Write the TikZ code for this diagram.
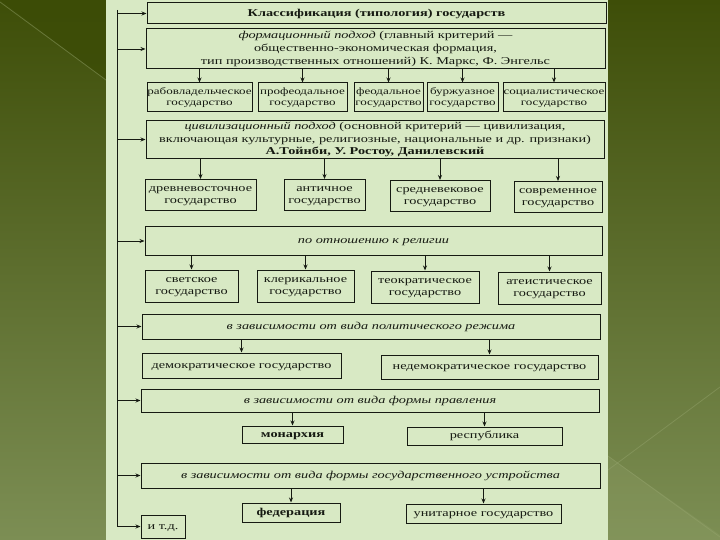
\documentclass[tikz,border=0pt]{standalone}
\usepackage{fontspec}
\setmainfont[FakeStretch=1.36]{Liberation Serif}
\usetikzlibrary{arrows.meta}
\definecolor{panel}{RGB}{216,233,196}
\definecolor{ink}{RGB}{22,26,18}
\definecolor{bgtop}{RGB}{62,78,8}
\definecolor{bgbot}{RGB}{124,142,84}
\definecolor{bgdark}{RGB}{60,76,6}
\definecolor{bglight}{RGB}{150,165,110}
\newcommand{\Tx}[1]{\begin{tabular}{@{}c@{}}#1\end{tabular}}
\begin{document}
\begin{tikzpicture}[x=1pt,y=-1pt,
  box/.style={draw=ink, line width=1pt, inner sep=0pt, text=ink,
    font=\fontsize{10.5}{12.6}\selectfont},
  smallbox/.style={box, font=\fontsize{9.6}{11.6}\selectfont},
  arr/.style={draw=ink, line width=0.9pt, -{Stealth[length=5pt,width=4pt]}},
  trunkline/.style={draw=ink, line width=1pt},
  deco/.style={draw=bglight, line width=0.8pt, opacity=0.45}
]
\useasboundingbox (0,0) rectangle (720,540);
% background
\shade[top color=bgtop, bottom color=bgbot] (0,0) rectangle (720,540);
\fill[bgdark, opacity=0.8] (0,0) -- (106,0) -- (106,80) -- cycle;
\fill[bglight, opacity=0.25] (608,456) -- (720,535) -- (720,540) -- (608,540) -- cycle;
\draw[deco] (0,2) -- (106,80);
\draw[deco] (608,470) -- (720,387);
\draw[deco] (608,456) -- (720,537);
% panel
\fill[panel] (106,0) rectangle (608,540);

% header boxes
\node[box, minimum width=459pt, minimum height=21pt] (title) at (376.5,13.5)
  {\Tx{\textbf{Классификация (типология) государств}}};
\node[box, minimum width=459pt, minimum height=40pt] (form) at (375.5,49)
  {\Tx{{\itshape формационный подход} (главный критерий —\\общественно-экономическая формация,\\тип производственных отношений) К. Маркс, Ф. Энгельс}};

% row 1
\node[smallbox, minimum width=105pt, minimum height=29pt] (r1a) at (199.5,97.5) {\Tx{рабовладельческое\\государство}};
\node[smallbox, minimum width=89pt, minimum height=29pt] (r1b) at (302.5,97.5) {\Tx{профеодальное\\государство}};
\node[smallbox, minimum width=69pt, minimum height=29pt] (r1c) at (388.5,97.5) {\Tx{феодальное\\государство}};
\node[smallbox, minimum width=71pt, minimum height=29pt] (r1d) at (462.5,97.5) {\Tx{буржуазное\\государство}};
\node[smallbox, minimum width=102pt, minimum height=29pt] (r1e) at (554,97.5) {\Tx{социалистическое\\государство}};

\node[box, minimum width=458pt, minimum height=38pt] (civ) at (375,139.5)
  {\Tx{{\itshape цивилизационный подход} (основной критерий — цивилизация,\\включающая культурные, религиозные, национальные и др. признаки)\\\textbf{А.Тойнби, У. Ростоу, Данилевский}}};

% row 2
\node[box, minimum width=111pt, minimum height=31pt] (r2a) at (200.5,195) {\Tx{древневосточное\\государство}};
\node[box, minimum width=81pt, minimum height=31pt] (r2b) at (324.5,195) {\Tx{античное\\государство}};
\node[box, minimum width=100pt, minimum height=31pt] (r2c) at (440,196) {\Tx{средневековое\\государство}};
\node[box, minimum width=88pt, minimum height=31pt] (r2d) at (558,197) {\Tx{современное\\государство}};

\node[box, minimum width=457pt, minimum height=28pt] (rel) at (373.5,241)
  {\Tx{\itshape по отношению к религии}};

% row 3
\node[box, minimum width=93pt, minimum height=32pt] (r3a) at (191.5,286) {\Tx{светское\\государство}};
\node[box, minimum width=97pt, minimum height=32pt] (r3b) at (305.5,286) {\Tx{клерикальное\\государство}};
\node[box, minimum width=108pt, minimum height=32pt] (r3c) at (425,287) {\Tx{теократическое\\государство}};
\node[box, minimum width=103pt, minimum height=32pt] (r3d) at (549.5,288) {\Tx{атеистическое\\государство}};

\node[box, minimum width=458pt, minimum height=25pt] (pol) at (371,326.5)
  {\Tx{\itshape в зависимости от вида политического режима}};

% row 4
\node[box, minimum width=199pt, minimum height=25pt] (r4a) at (241.5,365.5) {\Tx{демократическое государство}};
\node[box, minimum width=217pt, minimum height=24pt] (r4b) at (489.5,367) {\Tx{недемократическое государство}};

\node[box, minimum width=458pt, minimum height=23pt] (gov) at (370,400.5)
  {\Tx{\itshape в зависимости от вида формы правления}};

% row 5
\node[box, minimum width=101pt, minimum height=17pt] (r5a) at (292.5,434.5) {\Tx{\textbf{монархия}}};
\node[box, minimum width=155pt, minimum height=18pt] (r5b) at (484.5,436) {\Tx{республика}};

\node[box, minimum width=459pt, minimum height=25pt] (str) at (370.5,475.5)
  {\Tx{\itshape в зависимости от вида формы государственного устройства}};

% row 6
\node[box, minimum width=98pt, minimum height=19pt] (r6a) at (291,512.5) {\Tx{\textbf{федерация}}};
\node[box, minimum width=155pt, minimum height=19pt] (r6b) at (483.5,513.5) {\Tx{унитарное государство}};
\node[box, minimum width=44pt, minimum height=23pt] (etc) at (163,526.5) {\Tx{и т.д.}};

% trunk
\coordinate (trunk) at (117,10);
\draw[trunkline] (trunk) -- (trunk |- etc.west);
\foreach \n in {title,form,civ,rel,pol,gov,str,etc}
  \draw[arr] (trunk |- \n.west) -- (\n.west);

% child arrows
\foreach \c in {r1a,r1b,r1c,r1d,r1e} \draw[arr] (\c.north |- form.south) -- (\c.north);
\foreach \c in {r2a,r2b,r2c,r2d} \draw[arr] (\c.north |- civ.south) -- (\c.north);
\foreach \c in {r3a,r3b,r3c,r3d} \draw[arr] (\c.north |- rel.south) -- (\c.north);
\foreach \c in {r4a,r4b} \draw[arr] (\c.north |- pol.south) -- (\c.north);
\foreach \c in {r5a,r5b} \draw[arr] (\c.north |- gov.south) -- (\c.north);
\foreach \c in {r6a,r6b} \draw[arr] (\c.north |- str.south) -- (\c.north);
\end{tikzpicture}
\end{document}
